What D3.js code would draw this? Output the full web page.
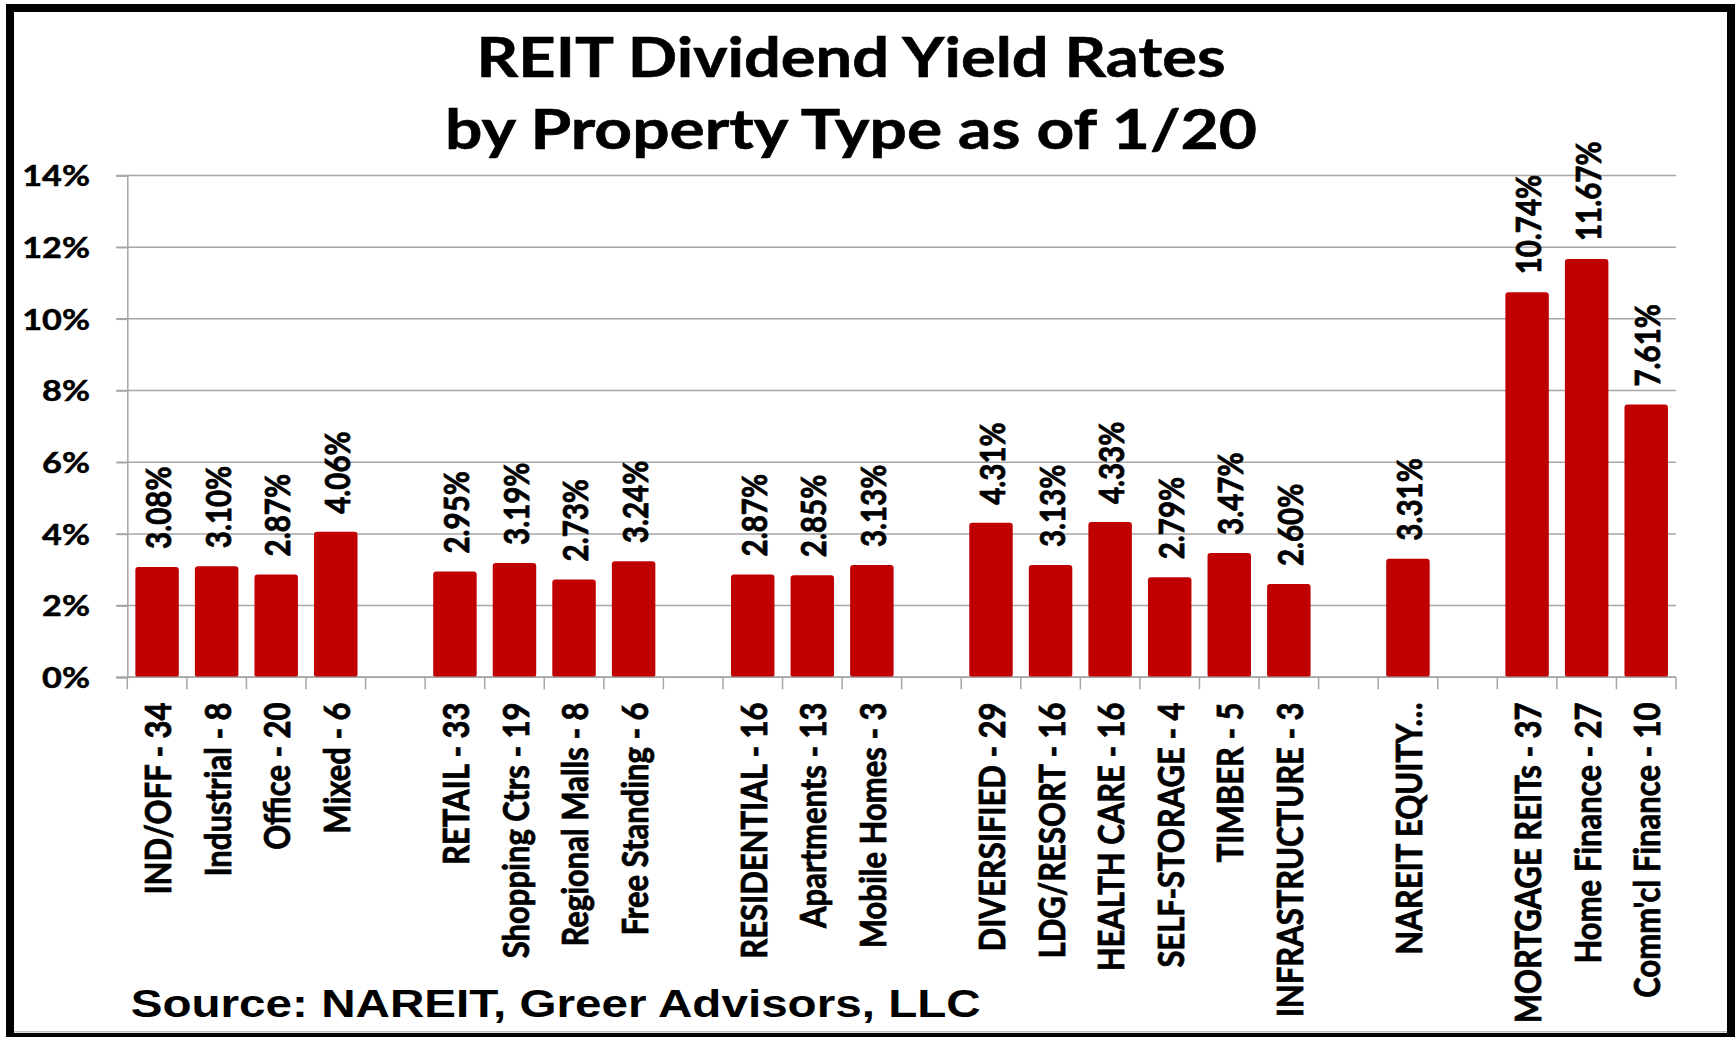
<!DOCTYPE html>
<html>
<head>
<meta charset="utf-8">
<script src="https://cdn.jsdelivr.net/npm/d3@7"></script>
<style>
  html, body { margin: 0; padding: 0; background: #fff; }
  svg { display: block; }
</style>
</head>
<body>
<svg id="chart" width="1735" height="1037"></svg>
<script>
// ---- data ----
const categories = ["IND/OFF - 34","Industrial - 8","Office - 20","Mixed - 6","",
  "RETAIL - 33","Shopping Ctrs - 19","Regional Malls - 8","Free Standing - 6","",
  "RESIDENTIAL - 16","Apartments - 13","Mobile Homes - 3","",
  "DIVERSIFIED - 29","LDG/RESORT - 16","HEALTH CARE - 16","SELF-STORAGE - 4","TIMBER - 5","INFRASTRUCTURE - 3","",
  "NAREIT EQUITY\u2026","",
  "MORTGAGE REITs - 37","Home Finance - 27","Comm'cl Finance - 10"];
const yields = [3.08,3.10,2.87,4.06,null,
  2.95,3.19,2.73,3.24,null,
  2.87,2.85,3.13,null,
  4.31,3.13,4.33,2.79,3.47,2.60,null,
  3.31,null,
  10.74,11.67,7.61];
const yTicks = [0,2,4,6,8,10,12,14];
const titleLines = ["REIT Dividend Yield Rates","by Property Type as of 1/20"];
const sourceText = "Source: NAREIT, Greer Advisors, LLC";

// ---- layout ----
const W = 1735, H = 1037;
const plot = {left: 127.3, right: 1676, top: 175.5, bottom: 677.3};
const K = 1.18; // horizontal glyph stretch
const calibri = "Lato, 'Open Sans', sans-serif";
const arial = "'Liberation Sans', Arial, sans-serif";
const gridColor = "#a6a6a6";
const barColor = "#c00000";

const svg = d3.select("#chart");
svg.append("rect").attr("x",0).attr("y",0).attr("width",W).attr("height",H).attr("fill","#fff");

const x = d3.scaleBand().domain(d3.range(categories.length))
  .range([plot.left, plot.right]).paddingInner(0.27).paddingOuter(0.135);
const y = d3.scaleLinear().domain([0,14]).range([plot.bottom, plot.top]);

// gridlines
svg.append("g").selectAll("line").data(yTicks).join("line")
  .attr("x1", plot.left - 11).attr("x2", plot.right)
  .attr("y1", d => y(d)).attr("y2", d => y(d))
  .attr("stroke", gridColor).attr("stroke-width", 1.5);

// y axis
const yAxis = svg.append("g").attr("transform", `translate(${plot.left},0)`)
  .call(d3.axisLeft(y).tickValues(yTicks).tickSize(11).tickFormat(d => d + "%"));
yAxis.select(".domain").attr("stroke", gridColor).attr("stroke-width", 1.5);
yAxis.selectAll(".tick line").attr("stroke", gridColor).attr("stroke-width", 1.5);
yAxis.selectAll(".tick text")
  .attr("x", 0).attr("dy", "0.35em")
  .attr("transform", `translate(${90 - plot.left},0) scale(${K},1)`)
  .attr("text-anchor", "end")
  .style("font-family", calibri).style("font-weight", 700).style("font-size", "29px")
  .attr("fill", "#000").attr("stroke", "#000").attr("stroke-width", 0.5);

// x axis line + boundary ticks
const step = x.step();
const boundaries = d3.range(categories.length + 1).map(i => i === categories.length ? plot.right : x(i) - x.paddingInner() * step / 2);
svg.append("line").attr("x1", plot.left - 11).attr("x2", plot.right)
  .attr("y1", plot.bottom).attr("y2", plot.bottom)
  .attr("stroke", gridColor).attr("stroke-width", 1.5);
svg.append("g").selectAll("line").data(boundaries).join("line")
  .attr("x1", d => d).attr("x2", d => d)
  .attr("y1", plot.bottom).attr("y2", plot.bottom + 12)
  .attr("stroke", gridColor).attr("stroke-width", 1.5);

// bars
const barData = yields.map((v, i) => ({i, v})).filter(d => d.v != null);
svg.append("g").selectAll("rect").data(barData).join("rect")
  .attr("x", d => x(d.i)).attr("width", x.bandwidth())
  .attr("y", d => y(d.v)).attr("height", d => plot.bottom - y(d.v))
  .attr("rx", 3).attr("fill", barColor);
// redraw axis line over bar bottoms
svg.append("line").attr("x1", plot.left).attr("x2", plot.right)
  .attr("y1", plot.bottom).attr("y2", plot.bottom)
  .attr("stroke", gridColor).attr("stroke-width", 1.5);

// data labels
svg.append("g").selectAll("text").data(barData).join("text")
  .attr("transform", d => `translate(${x(d.i) + x.bandwidth()/2 + 1.5},${y(d.v) - 18}) scale(${K},1) rotate(-90)`)
  .attr("dy", "0.36em")
  .attr("text-anchor", "start")
  .style("font-family", calibri).style("font-weight", 700).style("font-size", "29.5px")
  .attr("fill", "#000").attr("stroke", "#000").attr("stroke-width", 0.7)
  .text(d => d.v.toFixed(2) + "%");

// category labels
svg.append("g").selectAll("text").data(categories.map((c, i) => ({c, i})).filter(d => d.c !== "")).join("text")
  .attr("transform", d => `translate(${x(d.i) + x.bandwidth()/2 + 1},702.5) scale(${K},1) rotate(-90)`)
  .attr("dy", "0.36em")
  .attr("text-anchor", "end")
  .style("font-family", calibri).style("font-weight", 700).style("font-size", "31px")
  .attr("fill", "#000").attr("stroke", "#000").attr("stroke-width", 0.7)
  .text(d => d.c);

// title
const titleBase = [77.3, 149.3];
const titleLen = [749, 812];
svg.append("g").selectAll("text").data(titleLines).join("text")
  .attr("x", 851).attr("y", (d, i) => titleBase[i])
  .attr("text-anchor", "middle")
  .attr("textLength", (d, i) => titleLen[i]).attr("lengthAdjust", "spacingAndGlyphs")
  .style("font-family", calibri).style("font-weight", 700).style("font-size", "55px")
  .attr("fill", "#000").attr("stroke", "#000").attr("stroke-width", 0.6)
  .text(d => d);

// source
svg.append("text").attr("x", 130.7).attr("y", 1017.3)
  .attr("textLength", 850).attr("lengthAdjust", "spacingAndGlyphs")
  .style("font-family", arial).style("font-weight", 700).style("font-size", "39px")
  .attr("fill", "#000").text(sourceText);

// frame
svg.append("line").attr("x1", 13).attr("x2", 1727).attr("y1", 1031.8).attr("y2", 1031.8)
  .attr("stroke", "#bfbfbf").attr("stroke-width", 1.5);
svg.append("rect").attr("x", 10).attr("y", 8).attr("width", 1721).attr("height", 1029)
  .attr("fill", "none").attr("stroke", "#000").attr("stroke-width", 8);
</script>
</body>
</html>
